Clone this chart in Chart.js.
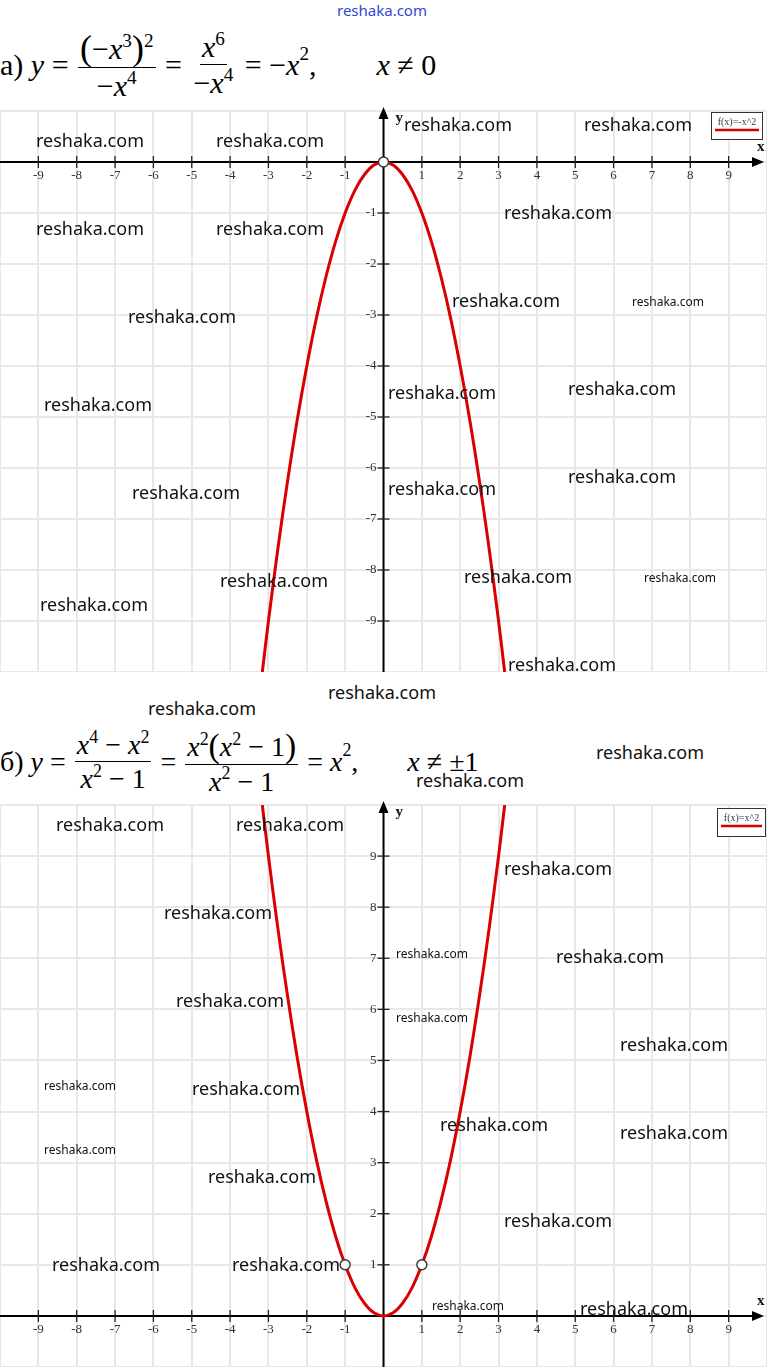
<!DOCTYPE html>
<html><head><meta charset="utf-8">
<script src="https://cdn.jsdelivr.net/npm/chart.js@4"></script>
<style>
body{margin:0;width:767px;height:1367px;position:relative;background:#fff;overflow:hidden}
.eq{position:absolute;display:flex;align-items:center;font-family:'Liberation Serif',serif;color:#000;white-space:pre;line-height:1}
.frac{display:inline-flex;flex-direction:column;align-items:center;margin:0 2px}
.frac .n{border-bottom:1.6px solid #000;padding:0 2px 2px}
.frac .d{padding:3px 2px 0}
.eq sup{font-size:0.64em;vertical-align:0;position:relative;top:-0.62em}
.eq i{font-style:italic}
.big{font-size:1.2em;position:relative;top:1px}
.wm{position:absolute;font-family:'Noto Sans',sans-serif;color:#111;line-height:1;white-space:nowrap}
.box{position:absolute;left:0;width:767px}
</style></head>
<body>
<div class="wm" style="left:337px;top:3px;font-size:15px;color:#3048d8">reshaka.com</div>

<div class="eq" style="left:0;top:29px;font-size:30px">а) <i>y</i> = <span class="frac"><span class="n"><span class="big">(</span>−<i>x</i><sup>3</sup><span class="big">)</span><sup>2</sup></span><span class="d">−<i>x</i><sup>4</sup></span></span> = <span class="frac"><span class="n"><i>x</i><sup>6</sup></span><span class="d">−<i>x</i><sup>4</sup></span></span> = −<i>x</i><sup>2</sup>,        <i>x</i> ≠ 0</div>

<div class="eq" style="left:0;top:728px;font-size:28px">б) <i>y</i> = <span class="frac"><span class="n"><i>x</i><sup>4</sup> − <i>x</i><sup>2</sup></span><span class="d"><i>x</i><sup>2</sup> − 1</span></span> = <span class="frac"><span class="n"><i>x</i><sup>2</sup><span class="big">(</span><i>x</i><sup>2</sup> − 1<span class="big">)</span></span><span class="d"><i>x</i><sup>2</sup> − 1</span></span> = <i>x</i><sup>2</sup>,       <i>x</i> ≠ ±1</div>

<div class="box" style="top:105px;height:567px"><canvas id="c1"></canvas></div>
<div class="box" style="top:799px;height:568px"><canvas id="c2"></canvas></div>
<div id="wms"></div>

<script>
// ---- data ----
const xPts      = [-3.16,-3,-2.75,-2.5,-2.25,-2,-1.75,-1.5,-1.25,-1,-0.75,-0.5,-0.25,0,0.25,0.5,0.75,1,1.25,1.5,1.75,2,2.25,2.5,2.75,3,3.16];
const yTopPts   = [-10,-9,-7.56,-6.25,-5.06,-4,-3.06,-2.25,-1.56,-1,-0.56,-0.25,-0.06,0,-0.06,-0.25,-0.56,-1,-1.56,-2.25,-3.06,-4,-5.06,-6.25,-7.56,-9,-10];
const yBotPts   = [10,9,7.56,6.25,5.06,4,3.06,2.25,1.56,1,0.56,0.25,0.06,0,0.06,0.25,0.56,1,1.56,2.25,3.06,4,5.06,6.25,7.56,9,10];
const holeTopX  = [0];
const holeTopY  = [0];
const holeBotX  = [-1, 1];
const holeBotY  = [1, 1];
const xTickVals = [-9,-8,-7,-6,-5,-4,-3,-2,-1,1,2,3,4,5,6,7,8,9];
const yTopTicks = [-1,-2,-3,-4,-5,-6,-7,-8,-9];
const yBotTicks = [1,2,3,4,5,6,7,8,9];
const legendTop = 'f(x)=-x^2';
const legendBot = 'f(x)=x^2';

// watermark texts [left, centerY, fontSize]
const marks = [
 [36,141,18],[216,141,18],[404,125,18],[584,125,18],[36,229,18],[216,229,18],[504,213,18],
 [452,301,18],[632,303,12],[128,317,18],[388,393,18],[568,389,18],[44,405,18],[132,493,18],
 [388,489,18],[568,477,18],[220,581,18],[464,577,18],[644,579,12],[40,605,18],[508,665,18],
 [328,693,18],[148,709,18],[596,753,18],[416,781,18],
 [56,825,18],[236,825,18],[504,869,18],[164,913,18],[556,957,18],[396,955,12],[176,1001,18],
 [396,1019,12],[620,1045,18],[44,1087,12],[192,1089,18],[440,1125,18],[620,1133,18],[44,1151,12],
 [208,1177,18],[504,1221,18],[52,1265,18],[232,1265,18],[432,1307,12],[580,1309,18]
];

const wmHost = document.getElementById('wms');
marks.forEach(([l,cy,s])=>{
  const d=document.createElement('div');d.className='wm';d.textContent='reshaka.com';
  d.style.left=l+'px';d.style.top=(cy-s*0.55)+'px';d.style.fontSize=s+'px';wmHost.appendChild(d);
});

function axesPlugin(yTicks, legendText, legendRect){
  return {
    id:'axes',
    beforeDatasetsDraw(chart){
      const {ctx, chartArea:a, scales:{x,y}} = chart;
      const x0=x.getPixelForValue(0), y0=y.getPixelForValue(0);
      ctx.save();
      ctx.strokeStyle='#000'; ctx.fillStyle='#000'; ctx.lineWidth=2;
      ctx.beginPath(); ctx.moveTo(a.left,y0); ctx.lineTo(a.right-8,y0); ctx.stroke();
      ctx.beginPath(); ctx.moveTo(a.right-3,y0); ctx.lineTo(a.right-15,y0-5); ctx.lineTo(a.right-15,y0+5); ctx.closePath(); ctx.fill();
      ctx.beginPath(); ctx.moveTo(x0,a.bottom); ctx.lineTo(x0,8); ctx.stroke();
      ctx.beginPath(); ctx.moveTo(x0,2); ctx.lineTo(x0-5,14); ctx.lineTo(x0+5,14); ctx.closePath(); ctx.fill();
      ctx.lineWidth=1.3; ctx.strokeStyle='#222';
      ctx.font='13px "Liberation Serif"'; ctx.fillStyle='#333';
      ctx.textAlign='center'; ctx.textBaseline='top';
      xTickVals.forEach(v=>{
        const px=x.getPixelForValue(v);
        ctx.beginPath(); ctx.moveTo(px,y0-6); ctx.lineTo(px,y0+6); ctx.stroke();
        ctx.fillText(String(v),px,y0+7);
      });
      ctx.textAlign='right'; ctx.textBaseline='middle';
      yTicks.forEach(v=>{
        const py=y.getPixelForValue(v);
        ctx.beginPath(); ctx.moveTo(x0-6,py); ctx.lineTo(x0+6,py); ctx.stroke();
        ctx.fillText(String(v),x0-7,py);
      });
      ctx.fillStyle='#111'; ctx.font='bold 15px "Liberation Serif"';
      ctx.textAlign='left'; ctx.textBaseline='middle';
      ctx.fillText('y',x0+12,13);
      ctx.fillText('x',a.right-10,y0-15);
      ctx.restore();
    },
    afterDraw(chart){
      const {ctx}=chart; const [lx,ly,lw,lh]=legendRect;
      ctx.save();
      ctx.fillStyle='#fff'; ctx.fillRect(lx,ly,lw,lh);
      ctx.strokeStyle='#333'; ctx.lineWidth=1; ctx.strokeRect(lx+0.5,ly+0.5,lw-1,lh-1);
      ctx.fillStyle='#2a3a4a'; ctx.font='10px "Liberation Serif"'; ctx.textAlign='center'; ctx.textBaseline='middle';
      ctx.fillText(legendText,lx+lw/2,ly+10);
      ctx.strokeStyle='#d40000'; ctx.lineWidth=2.5;
      ctx.beginPath(); ctx.moveTo(lx+4,ly+18); ctx.lineTo(lx+lw-4,ly+18); ctx.stroke();
      ctx.restore();
    }
  };
}

function makeChart(id, yVals, hx, hy, yMin, yMax, yTicks, legendText, legendRect){
  return new Chart(document.getElementById(id), {
    type:'scatter',
    data:{datasets:[
      {data:hx.map((v,i)=>({x:v,y:hy[i]})), pointRadius:5, pointBackgroundColor:'#fff', pointBorderColor:'#333', pointBorderWidth:1.4, showLine:false, order:0},
      {data:xPts.map((v,i)=>({x:v,y:yVals[i]})), showLine:true, borderColor:'#d80000', borderWidth:3, pointRadius:0, tension:0.4, fill:false, order:1}
    ]},
    options:{
      responsive:true, maintainAspectRatio:false, animation:false,
      layout:{autoPadding:false, padding:{top:6,left:0,right:0,bottom:0}},
      plugins:{legend:{display:false},tooltip:{enabled:false}},
      scales:{
        x:{type:'linear',min:-10,max:10,ticks:{display:false,stepSize:1},border:{display:false},grid:{color:'#e8e8e8',lineWidth:2,drawTicks:false}},
        y:{type:'linear',min:yMin,max:yMax,ticks:{display:false,stepSize:1},border:{display:false},grid:{color:'#e8e8e8',lineWidth:2,drawTicks:false}}
      }
    },
    plugins:[axesPlugin(yTicks, legendText, legendRect)]
  });
}

makeChart('c1', yTopPts, holeTopX, holeTopY, -10, 1, yTopTicks, legendTop, [711,7,52,28]);
makeChart('c2', yBotPts, holeBotX, holeBotY, -1, 10, yBotTicks, legendBot, [717,9,49,29]);
</script>
</body></html>
